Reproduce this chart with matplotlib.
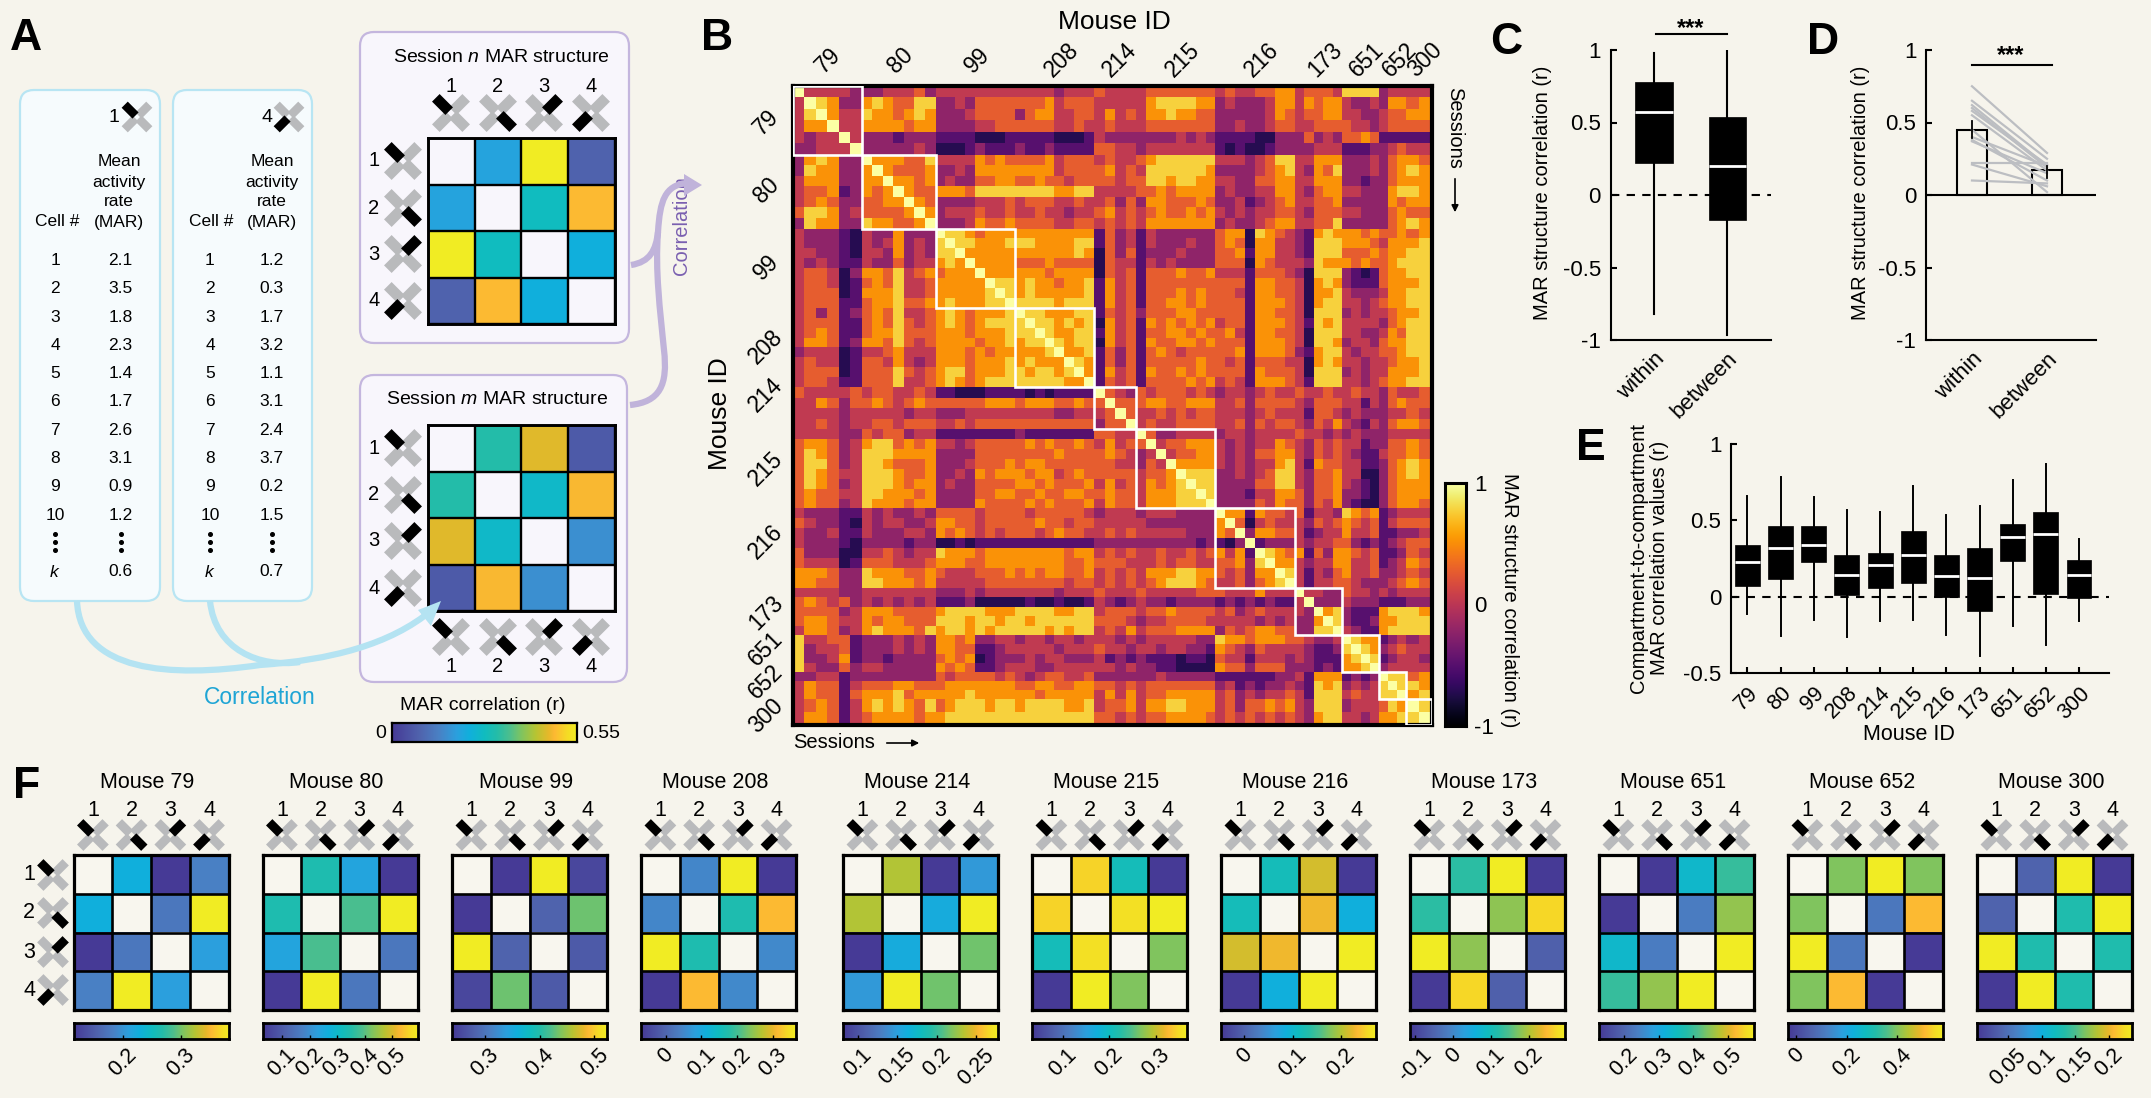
import numpy as np
import matplotlib
matplotlib.use('Agg')
import matplotlib.pyplot as plt
from matplotlib.colors import LinearSegmentedColormap
from matplotlib.patches import FancyBboxPatch, PathPatch, Polygon, Rectangle
from matplotlib.path import Path

plt.rcParams['font.family'] = ['Liberation Sans', 'DejaVu Sans']
plt.rcParams['mathtext.fontset'] = 'custom'
plt.rcParams['mathtext.rm'] = 'Liberation Sans'
plt.rcParams['mathtext.it'] = 'Liberation Sans:italic'
plt.rcParams['axes.unicode_minus'] = False

W, H = 2151, 1098
BG = '#f6f4ec'
PARULA = LinearSegmentedColormap.from_list('par', [
    (0, '#463a96'), (.15, '#5064ae'), (.25, '#4a80c4'), (.35, '#2ba0de'), (.42, '#10b0dc'),
    (.5, '#10bcc0'), (.57, '#25bda8'), (.64, '#4fbf8c'), (.7, '#7fc560'), (.78, '#b8c432'),
    (.85, '#e8b82a'), (.88, '#fdb933'), (.95, '#f5dc25'), (1, '#f1ec23')])

# ---------- data ----------
MICE = ['79', '80', '99', '208', '214', '215', '216', '173', '651', '652', '300']
SESSIONS = [13, 14, 15, 15, 8, 15, 15, 9, 7, 5, 5]
BINS = [6, 7, 8, 8, 4, 8, 8, 5, 4, 3, 2]
# correlation value for each estimated level 0..9
LEVEL_R = [-1, -.9, -.72, -.5, -.22, .03, .27, .52, .78, 1]
# session-to-session correlation levels, lower triangle, grouped by mouse
LEVELS = [
 "9", "59", "589", "5779", "54559", "445559",
 "478744 9", "487744 79", "577744 779", "566734 7679", "567644 66779", "688745 666679", "487744 8776679",
 "544432 5447444 9", "544432 5457454 89", "554432 5547454 889", "545433 5446455 7879",
 "566524 7768567 67779", "566523 6768556 777779", "566623 7778556 7777789", "566633 6778667 78777889",
 "564634 6768556 78767778 9", "566633 6768656 78767888 89", "567633 6778666 77767778 889",
 "577634 7768656 77776778 7889", "455523 5567555 77767677 77789", "565523 6657545 77767778 787779",
 "566623 6668656 78867778 8788789", "566533 6668556 78767888 88888779",
 "655556 5665565 33222333 32323333 9", "557646 6765676 66666777 67776676 69",
 "555545 5555455 44455555 55554455 569", "556545 5665666 55656666 66666666 4669",
 "555544 6566455 33333333 43333333 6655 9",
 "677645 7886767 55456666 67676676 5756 69",
 "687645 8887777 44446666 66667666 6765 459",
 "688645 8876667 44456667 67766666 6655 4659",
 "687655 8887667 44547677 76775676 6666 56679",
 "687645 8887677 45446666 77676667 5756 576789",
 "676655 8877767 44446677 66766776 6766 5777889",
 "676645 8777677 44447666 67676667 5766 57778889",
 "544433 5454454 66665666 65666665 4555 45554444 9",
 "654432 5455445 77665666 66766566 5555 54444444 79",
 "544533 5444554 76765656 66567665 5656 55555444 769",
 "544432 4444344 22323333 33333333 4444 44444434 3249",
 "644422 5565455 87776777 77777677 5656 55655656 75739",
 "655523 6665556 77766777 77777667 6665 55656655 667489",
 "777644 8777667 65556667 67677667 5656 57778877 6564779",
 "776644 8877767 55555666 66666566 5656 56788876 55646789",
 "555544 5555555 44454555 55554555 6555 65555566 65557555 9",
 "676564 5454545 33342222 23223223 5434 54434444 34343433 59",
 "666645 7776666 78888777 88887788 5666 56676666 56456555 549",
 "677655 7677666 88878878 87888888 6665 45566665 55554545 4479",
 "577645 7877768 78878788 88878788 5657 56667777 46567766 44889",
 "855663 4445454 77674455 45545545 5545 45555544 87767776 65445 9",
 "845563 4445454 77663345 55554555 6554 55455443 76546555 54334 89",
 "844573 4434444 67672344 45455444 5343 43332332 65535554 54333 789",
 "854464 5544444 76763345 55445555 5545 44332222 76646664 44343 7789",
 "445534 4444444 65666656 54566556 4444 44544444 33333344 53777 3434 9",
 "576635 6667766 67777777 66776677 6656 56666666 45343445 43878 4545 89",
 "576636 7778677 77787777 77677777 5757 56677777 56454556 53888 5655 889",
 "567635 7878768 67888788 78888778 5667 57788777 56466767 54888 4555 687 9",
 "577635 6777767 78888888 88888888 6656 56677776 56565656 54788 5545 778 89",
]
# panel A
CELL_NUMS = ['1', '2', '3', '4', '5', '6', '7', '8', '9', '10']
MAR_1 = ['2.1', '3.5', '1.8', '2.3', '1.4', '1.7', '2.6', '3.1', '0.9', '1.2']
MAR_2 = ['1.2', '0.3', '1.7', '3.2', '1.1', '3.1', '2.4', '3.7', '0.2', '1.5']
SESSION_N = [.20, .55, .08, .275, .484, .23]   # pairs 12,13,14,23,24,34
SESSION_M = [.31, .46, .066, .26, .48, .165]
# panel C: low, q1, median, q3, high
C_WITHIN = [-.82, .22, .57, .78, .98]
C_BETWEEN = [-.965, -.17, .20, .54, .99]
# panel D
D_MEANS = [.45, .17]
D_ERR_LOW = [.39, .115]
D_ERR_HIGH = [.51, .20]
D_WITHIN = [.75, .65, .62, .60, .58, .55, .45, .40, .38, .37, .22, .21, .10]
D_BETWEEN = [.29, .25, .20, .19, .21, .17, .02, .20, .10, .15, .22, .06, .08]
# panel E
E_LOW = [-.116, -.26, -.155, -.264, -.16, -.155, -.251, -.386, -.195, -.319, -.158]
E_Q1 = [.073, .113, .224, .012, .056, .091, -.003, -.094, .235, .017, -.012]
E_MED = [.224, .318, .339, .141, .209, .272, .135, .121, .392, .409, .143]
E_Q3 = [.339, .466, .462, .272, .283, .429, .276, .32, .477, .553, .239]
E_HIGH = [.662, .786, .651, .568, .555, .725, .536, .597, .762, .867, .376]
# panel F
F_PAIRS = [
 [.227, .115, .182, .174, .381, .208], [.338, .237, .028, .383, .592, .152],
 [.239, .523, .253, .282, .432, .273], [.048, .364, -.069, .169, .312, .052],
 [.233, .081, .146, .160, .278, .215], [.345, .207, .033, .355, .368, .268],
 [.118, .214, -.048, .227, .086, .272], [.123, .294, -.113, .180, .270, -.056],
 [.128, .339, .397, .236, .455, .576], [.396, .58, .396, .102, .506, -.033],
 [.039, .234, .004, .131, .234, .131]]
F_VMIN = [.115, .028, .239, -.069, .081, .033, -.048, -.113, .128, -.033, .004]
F_VMAX = [.381, .592, .523, .364, .278, .368, .272, .294, .576, .58, .234]
F_TICKS = [[.2, .3], [.1, .2, .3, .4, .5], [.3, .4, .5], [0, .1, .2, .3], [.1, .15, .2, .25],
           [.1, .2, .3], [0, .1, .2], [-.1, 0, .1, .2], [.2, .3, .4, .5], [0, .2, .4], [.05, .1, .15, .2]]
F_LEFT = [73.5, 262.5, 452, 641, 843, 1032, 1221, 1410, 1599, 1788, 1977]

# ---------- helpers ----------
fig = plt.figure(figsize=(W / 100, H / 100), dpi=100, facecolor=BG)


def ax_px(x0, y0, x1, y1, **kw):
    return fig.add_axes([x0 / W, 1 - y1 / H, (x1 - x0) / W, (y1 - y0) / H], **kw)


def overlay(z):
    a = fig.add_axes([0, 0, 1, 1], zorder=z)
    a.set_xlim(0, W)
    a.set_ylim(H, 0)
    a.axis('off')
    a.patch.set_alpha(0)
    return a


ov = overlay(0)
top = overlay(5)


def T(x, y, s, size=13, a=None, **kw):
    kw.setdefault('ha', 'center')
    kw.setdefault('va', 'center')
    (a or ov).text(x, y, s, fontsize=size, **kw)


def icon(cx, cy, size, arm):
    w = .29 * size
    dirs = {1: (-1, -1), 2: (1, 1), 3: (1, -1), 4: (-1, 1)}
    for k, (dx, dy) in dirs.items():
        u = np.array([dx, dy]) / np.sqrt(2)
        n = np.array([-u[1], u[0]])
        c = np.array([cx, cy])
        r0, r1 = .07 * size, .58 * size
        pts = [c + u * r0 + n * w / 2, c + u * r1 + n * w / 2, c + u * r1 - n * w / 2, c + u * r0 - n * w / 2]
        ov.add_patch(Polygon(pts, closed=True, fc='k' if k == arm else '#b9babc', ec='none',
                             zorder=4 if k == arm else 3))


def matrix(x0, y0, x1, y1, pairs, vmin, vmax, bg, lw):
    m = np.full((4, 4), np.nan)
    for (i, j), v in zip([(0, 1), (0, 2), (0, 3), (1, 2), (1, 3), (2, 3)], pairs):
        m[i, j] = m[j, i] = v
    a = ax_px(x0, y0, x1, y1, zorder=2)
    a.imshow(np.ma.masked_invalid(m), cmap=PARULA, vmin=vmin, vmax=vmax, aspect='auto', interpolation='nearest')
    a.set_facecolor(bg)
    a.set_xticks([])
    a.set_yticks([])
    a.set_xticks(np.arange(-.5, 4), minor=True)
    a.set_yticks(np.arange(-.5, 4), minor=True)
    a.tick_params(which='minor', length=0)
    a.grid(which='minor', color='k', lw=lw)
    for s in a.spines.values():
        s.set_linewidth(lw + .4)
    return a


def gradient_bar(x0, y0, x1, y1, cmap, vmin, vmax, lw=2.2, horizontal=True):
    a = ax_px(x0, y0, x1, y1, zorder=2)
    g = np.linspace(0, 1, 256)
    if horizontal:
        a.imshow(g[None, :], cmap=cmap, aspect='auto', extent=[vmin, vmax, 0, 1])
        a.set_yticks([])
    else:
        a.imshow(g[::-1, None], cmap=cmap, aspect='auto', extent=[0, 1, vmin, vmax])
        a.set_xticks([])
    for s in a.spines.values():
        s.set_linewidth(lw)
    return a


def curve(a, verts, color, lw):
    codes = [Path.MOVETO] + [Path.CURVE4] * (len(verts) - 1)
    a.add_patch(PathPatch(Path(verts, codes), fc='none', ec=color, lw=lw, capstyle='butt'))


# panel letters
for s, x, y in [('A', 26, 38), ('B', 717, 38), ('C', 1506, 43), ('D', 1823, 43), ('E', 1591, 448), ('F', 27, 787)]:
    T(x, y, s, size=32, weight='bold')

# ---------- panel A ----------
BLUE_EDGE, BLUE_FILL = '#b8e5f3', '#f6fbfd'
PUR_EDGE, PUR_FILL = '#c4b6de', '#f8f6fc'


def rbox(x0, y0, x1, y1, fc, ec):
    ov.add_patch(FancyBboxPatch((x0 + 14, y0 + 14), x1 - x0 - 28, y1 - y0 - 28,
                                boxstyle='round,pad=14,rounding_size=14', fc=fc, ec=ec, lw=1.6))


rbox(20, 90, 160, 601, BLUE_FILL, BLUE_EDGE)
rbox(173, 90, 312, 601, BLUE_FILL, BLUE_EDGE)
rbox(360, 32, 629, 343, PUR_FILL, PUR_EDGE)
rbox(360, 375, 627, 682, PUR_FILL, PUR_EDGE)

for xc, xv, xm, xh, label, arm, ix, nx, vals in [(55, 120.5, 119, 57, '1', 1, 137, 114, MAR_1),
                                                 (210, 271.5, 272, 211, '4', 4, 289, 267, MAR_2)]:
    icon(ix, 117, 30, arm)
    T(nx, 117, label, size=14)
    for y, s in zip([162, 182, 202, 222], ['Mean', 'activity', 'rate', '(MAR)']):
        T(xm, y, s, size=12.5)
    T(xh, 222, 'Cell #', size=12.5)
    for i, (c, v) in enumerate(zip(CELL_NUMS, vals)):
        T(xc, 260.5 + 28.3 * i, c, size=12.5)
        T(xv, 260.5 + 28.3 * i, v, size=12.5)
    for xd in (xc, xv):
        for dy in (-8, 0, 8):
            ov.plot([xd], [542 + dy], 'o', color='k', ms=2.6)
    T(xc, 572, '$\\mathit{k}$', size=12.5)
    T(xv, 572, '0.6' if arm == 1 else '0.7', size=12.5)

T(501, 58, 'Session $\\mathit{n}$ MAR structure', size=14)
T(497, 400, 'Session $\\mathit{m}$ MAR structure', size=14)
COLS_A = [451, 498, 544, 591]
for k, x in enumerate(COLS_A):
    T(x, 87, str(k + 1), size=14.5)
    icon(x, 113, 37, k + 1)
    icon(x, 637, 37, k + 1)
    T(x, 666, str(k + 1), size=14.5)
for k, (y1, y2) in enumerate(zip([161, 208, 254, 301], [448, 495, 541, 588])):
    for y in (y1, y2):
        T(374, y, str(k + 1), size=14.5)
        icon(403, y, 37, k + 1)
matrix(428, 138, 614.5, 324, SESSION_N, 0, .55, PUR_FILL, 1.7)
matrix(428, 425, 614.5, 611, SESSION_M, 0, .55, PUR_FILL, 1.7)

T(483, 706, 'MAR correlation (r)', size=14)
gradient_bar(392, 723, 577, 742, PARULA, 0, .55, lw=1.6).set_xticks([])
T(381, 733, '0', size=14)
T(601, 733, '0.55', size=14)
T(260, 697, 'Correlation', size=16.5, color='#1fa5d5')
T(682, 226, 'Correlation', size=14.5, color='#7a5fb0', rotation=90)

LB, LP = '#b4e3f2', '#c0b3da'
curve(top, [(77, 601), (80, 672), (170, 678), (260, 665), (330, 660), (390, 645), (432, 610)], LB, 4.5)
curve(top, [(210, 601), (215, 650), (260, 668), (300, 662)], LB, 4.5)
top.add_patch(Polygon([(441, 601), (418, 610), (431, 626)], fc=LB, ec='none'))
curve(top, [(631, 265), (650, 262), (656, 250), (658, 232), (660, 200), (665, 186), (686, 183)], LP, 4.5)
curve(top, [(630, 405), (660, 402), (668, 385), (664, 350), (660, 310), (655, 270), (658, 232)], LP, 4.5)
top.add_patch(Polygon([(702, 185), (684, 174), (684, 196)], fc=LP, ec='none'))

# ---------- panel B ----------
n = sum(BINS)
Z = np.zeros((n, n))
for i, row in enumerate(LEVELS):
    row = row.replace(' ', '')
    for j, ch in enumerate(row[:i + 1]):
        Z[i, j] = Z[j, i] = LEVEL_R[int(ch)]
starts = np.concatenate([[0], np.cumsum(SESSIONS)])
edges = [0.0]
for k, b in enumerate(BINS):
    edges.extend(np.linspace(starts[k], starts[k + 1], b + 1)[1:])
edges = np.array(edges)

axb = ax_px(793, 86, 1432, 725, zorder=2)
axb.pcolormesh(edges, edges, Z, cmap='inferno', vmin=-1, vmax=1)
axb.set_xlim(0, starts[-1])
axb.set_ylim(starts[-1], 0)
axb.set_xticks([])
axb.set_yticks([])
for s in axb.spines.values():
    s.set_linewidth(3)
for k in range(len(MICE)):
    axb.add_patch(Rectangle((starts[k], starts[k]), SESSIONS[k], SESSIONS[k], fc='none', ec='white', lw=1.9, zorder=3))

T(1114, 22, 'Mouse ID', size=19)
T(720, 414, 'Mouse ID', size=19, rotation=90)
TOP_X = [828, 900, 977, 1062, 1120, 1183, 1262, 1325, 1367, 1400, 1425]
LEFT_Y = [122, 190, 267, 347, 395, 469, 542, 613, 649, 682, 716]
for s, x, y in zip(MICE, TOP_X, LEFT_Y):
    T(x, 60, s, size=16.5, rotation=45)
    T(766, y, s, size=16.5, rotation=45)
T(834, 743, 'Sessions', size=14.5)
ov.annotate('', xy=(922, 743), xytext=(884, 743), arrowprops=dict(arrowstyle='-|>', color='k', lw=1.2))
T(1455, 128, 'Sessions', size=14.5, rotation=-90)
ov.annotate('', xy=(1455, 215), xytext=(1455, 176), arrowprops=dict(arrowstyle='-|>', color='k', lw=1.2))

cb = gradient_bar(1445, 483, 1466, 726, 'inferno', -1, 1, lw=2.2, horizontal=False)
cb.yaxis.tick_right()
cb.set_yticks([-1, 0, 1])
cb.set_yticklabels(['-1', '0', '1'], fontsize=16)
cb.tick_params(length=0, pad=6)
T(1509, 600, 'MAR structure correlation (r)', size=14.5, rotation=-90)


# ---------- panels C, D, E ----------
def stats(low, q1, med, q3, high):
    return dict(whislo=low, q1=q1, med=med, q3=q3, whishi=high, fliers=[])


def style(a, yticks, labels):
    a.patch.set_alpha(0)
    for s in ('top', 'right'):
        a.spines[s].set_visible(False)
    for s in ('left', 'bottom'):
        a.spines[s].set_linewidth(1.5)
    a.set_yticks(yticks)
    a.set_yticklabels(labels, fontsize=16)
    a.tick_params(axis='y', direction='in', length=4, width=1.5, pad=7)


def boxes(a, sts, pos, width, lw):
    a.axhline(0, color='k', lw=1.5, dashes=(4, 3.5), zorder=1)
    a.bxp(sts, positions=pos, widths=width, patch_artist=True, showcaps=False, showfliers=False,
          boxprops=dict(facecolor='k', edgecolor='k', linewidth=.5),
          medianprops=dict(color='white', lw=2),
          whiskerprops=dict(color='k', lw=lw), manage_ticks=False, zorder=2)


Y2 = [-1, -.5, 0, .5, 1]
Y2L = ['-1', '-0.5', '0', '0.5', '1']
axc = ax_px(1610.5, 50, 1771, 340, zorder=2)
boxes(axc, [stats(*C_WITHIN), stats(*C_BETWEEN)], [1, 2], .51, 1.5)
axc.set_xlim(.404, 2.6)
axc.set_ylim(-1, 1)
style(axc, Y2, Y2L)
axc.set_xticks([1, 2])
axc.set_xticklabels(['within', 'between'], fontsize=16, rotation=45, ha='right', rotation_mode='anchor')
axc.tick_params(axis='x', length=0, pad=6)
axc.plot([1.02, 2], [1.11, 1.11], color='k', lw=1.5, clip_on=False)
axc.text(1.5, 1.15, '***', ha='center', va='center', fontsize=17, weight='bold', clip_on=False)
T(1542, 193, 'MAR structure correlation (r)', size=14.5, rotation=90)

axd = ax_px(1926, 50, 2096, 340, zorder=2)
axd.bar([1, 2], D_MEANS, width=.4, fc='none', ec='k', lw=1.5, zorder=2)
for w, b in zip(D_WITHIN, D_BETWEEN):
    axd.plot([1, 2], [w, b], color='#bcbec2', lw=1.6, zorder=3)
for x, lo, hi in zip([1, 2], D_ERR_LOW, D_ERR_HIGH):
    axd.plot([x, x], [lo, hi], color='k', lw=1.3, zorder=4)
axd.axhline(0, color='k', lw=1.5, zorder=4)
axd.set_xlim(.387, 2.653)
axd.set_ylim(-1, 1)
style(axd, Y2, Y2L)
axd.set_xticks([1, 2])
axd.set_xticklabels(['within', 'between'], fontsize=16, rotation=45, ha='right', rotation_mode='anchor')
axd.tick_params(axis='x', length=0, pad=6)
axd.plot([1, 2.06], [.90, .90], color='k', lw=1.5)
axd.text(1.52, .96, '***', ha='center', va='center', fontsize=17, weight='bold')
T(1861, 193, 'MAR structure correlation (r)', size=14.5, rotation=90)

axe = ax_px(1731, 444, 2109, 673, zorder=2)
boxes(axe, [stats(*v) for v in zip(E_LOW, E_Q1, E_MED, E_Q3, E_HIGH)], list(range(1, 12)), .75, 1.4)
axe.set_xlim(1 - 17 / 34.3, 11 + 31 / 34.3)
axe.set_ylim(-.5, 1)
style(axe, [-.5, 0, .5, 1], ['-0.5', '0', '0.5', '1'])
axe.set_xticks(range(1, 12))
axe.set_xticklabels(MICE, fontsize=15.5, rotation=45, ha='right', rotation_mode='anchor')
axe.tick_params(axis='x', direction='in', length=4, width=1.5, pad=7)
T(1649, 558, 'Compartment-to-compartment\nMAR correlation values (r)', size=14.5, rotation=90, linespacing=1.1)
T(1909, 735, 'Mouse ID', size=15.5)

# ---------- panel F ----------
for k, m in enumerate(MICE):
    x0 = F_LEFT[k]
    x1 = x0 + 155
    T(x0 + 74, 783, 'Mouse ' + m, size=15.5)
    matrix(x0, 855, x1, 1010, F_PAIRS[k], F_VMIN[k], F_VMAX[k], '#f8f6ee', 1.9)
    for c in range(4):
        x = x0 + 19.4 + 38.7 * c
        T(x, 811, str(c + 1), size=15.5)
        icon(x, 835, 31, c + 1)
    bar = gradient_bar(x0, 1023, x1, 1039, PARULA, F_VMIN[k], F_VMAX[k], lw=2)
    bar.set_xticks(F_TICKS[k])
    bar.set_xticklabels([f'{t:g}' for t in F_TICKS[k]], fontsize=15.5, rotation=45, ha='center')
    bar.tick_params(axis='x', direction='in', length=3, width=1, pad=4)
for r, y in enumerate([875, 913, 952, 990]):
    T(29, y, str(r + 1), size=15.5)
    icon(53, y, 31, r + 1)

fig.savefig('out.png', dpi=100, facecolor=BG)
